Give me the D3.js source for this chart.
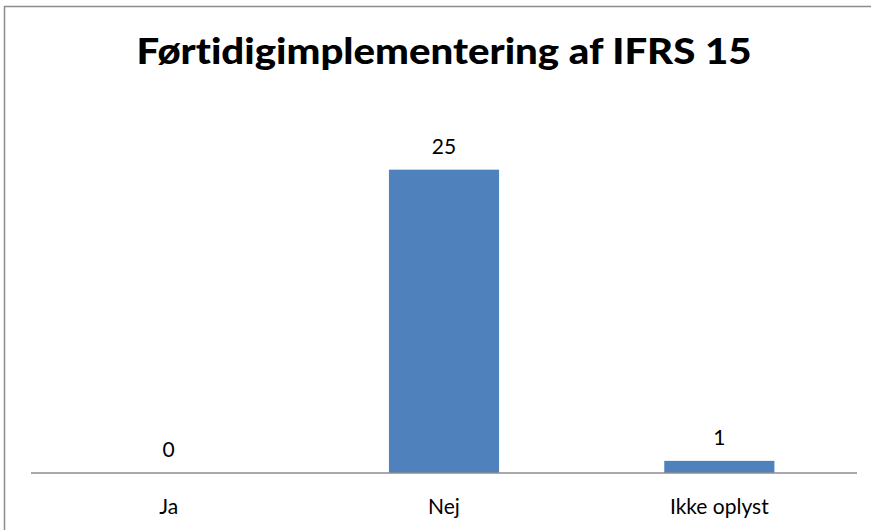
<!DOCTYPE html>
<html>
<head>
<meta charset="utf-8">
<script src="https://cdn.jsdelivr.net/npm/d3@7"></script>
<style>
  body { margin: 0; background: #fff; }
  text { font-family: Lato, "Open Sans", "Liberation Sans", sans-serif; fill: #000;
         font-variant-ligatures: none; font-feature-settings: "liga" 0, "clig" 0, "dlig" 0; }
</style>
</head>
<body>
<div id="container"></div>
<script>
var categories = ["Ja", "Nej", "Ikke oplyst"];
var values = [0, 25, 1];
var chartTitle = "Førtidigimplementering af IFRS 15";

var width = 871, height = 530;

var svg = d3.select("#container").append("svg")
  .attr("width", width)
  .attr("height", height);

// chart frame (runs past right and bottom edges)
svg.append("rect")
  .attr("x", 4.5).attr("y", 6.5)
  .attr("width", 900).attr("height", 600)
  .attr("fill", "none")
  .attr("stroke", "#8c8c8c")
  .attr("stroke-width", 1.5);

var x = d3.scaleBand()
  .domain(categories)
  .range([31, 857]);

var y = d3.scaleLinear()
  .domain([0, 30])
  .range([473, 109]);

var barW = x.bandwidth() * 0.4;

svg.append("g").selectAll("rect")
  .data(categories)
  .enter().append("rect")
  .attr("x", function(d) { return x(d) + (x.bandwidth() - barW) / 2; })
  .attr("y", function(d, i) { return y(values[i]); })
  .attr("width", barW)
  .attr("height", function(d, i) { return y(0) - y(values[i]); })
  .attr("fill", "#4f81bd");

// baseline
svg.append("line")
  .attr("x1", 31).attr("x2", 857)
  .attr("y1", y(0)).attr("y2", y(0))
  .attr("stroke", "#8c8c8c")
  .attr("stroke-width", 1.5);

// value labels
svg.append("g").selectAll("text")
  .data(categories)
  .enter().append("text")
  .attr("x", function(d) { return x(d) + x.bandwidth() / 2; })
  .attr("y", function(d, i) { return y(values[i]) - 16; })
  .attr("text-anchor", "middle")
  .style("font-size", "21px")
  .text(function(d, i) { return values[i]; });

// category labels
svg.append("g").selectAll("text")
  .data(categories)
  .enter().append("text")
  .attr("x", function(d) { return x(d) + x.bandwidth() / 2; })
  .attr("y", 514)
  .attr("text-anchor", "middle")
  .style("font-size", "21px")
  .text(function(d) { return d; });

svg.append("text")
  .attr("x", 444)
  .attr("y", 64)
  .attr("text-anchor", "middle")
  .attr("textLength", 615)
  .attr("lengthAdjust", "spacingAndGlyphs")
  .style("font-size", "36px")
  .style("font-weight", "900")
  .text(chartTitle);
</script>
</body>
</html>
